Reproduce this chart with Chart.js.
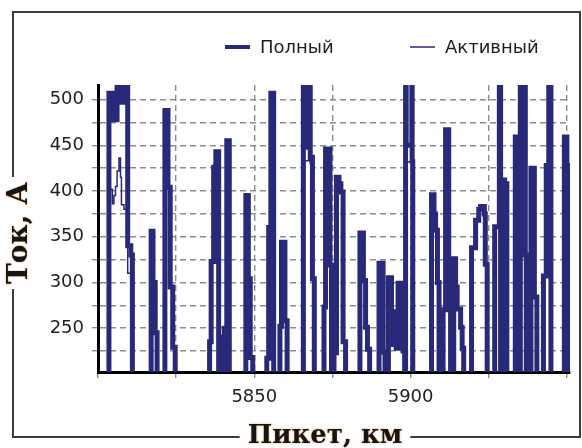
<!DOCTYPE html>
<html lang="ru">
<head>
<meta charset="utf-8">
<title>Ток по пикетам</title>
<script src="https://cdn.jsdelivr.net/npm/chart.js@4.4.1/dist/chart.umd.min.js"></script>
<style>
  html, body { margin: 0; padding: 0; background: #fff; }
  #wrap { width: 582px; height: 448px; }
</style>
</head>
<body>
<div id="wrap"><canvas id="tokChart"></canvas></div>
<script>
// пикет, км (общий для обеих кривых)
var piket = [
  5800.0,
  5803.5, 5804.6, 5805.1, 5805.6, 5806.1, 5806.7, 5807.2, 5807.5, 5808.3, 5809.5, 5810.5, 5811.0,
  5817.0, 5817.6, 5818.3, 5818.9,
  5821.4, 5822.4, 5823.1, 5823.9, 5824.7,
  5835.7, 5836.2, 5837.0, 5837.7, 5838.6, 5839.2, 5839.8, 5840.4, 5841.2, 5842.0,
  5847.3, 5848.1, 5848.7, 5849.5,
  5854.0, 5854.6, 5855.3, 5856.2,
  5858.2, 5858.7, 5859.8, 5860.5,
  5865.7, 5866.0, 5867.5, 5867.9, 5868.6, 5869.2,
  5872.3, 5872.8, 5874.2, 5874.7,
  5875.5, 5876.3, 5877.1, 5877.7, 5878.4, 5879.2,
  5883.8, 5884.9, 5885.6, 5886.2, 5886.9,
  5889.9, 5891.2, 5891.8,
  5892.9, 5893.9, 5894.4, 5894.9, 5895.4, 5896.0, 5897.1, 5897.6, 5898.1, 5898.4, 5898.6, 5900.4, 5900.5, 5900.7,
  5906.7, 5907.5, 5908.0, 5908.6, 5909.1,
  5910.4, 5911.2, 5912.2, 5912.8, 5913.8, 5914.4, 5914.9, 5916.0, 5916.5, 5917.0,
  5919.5, 5920.8, 5921.8, 5922.4, 5923.6, 5923.9, 5924.5,
  5926.9, 5928.4, 5928.8, 5929.5, 5930.1, 5930.8,
  5933.5, 5934.4, 5935.1, 5936.7, 5937.0, 5938.5, 5939.6, 5940.4,
  5942.5, 5943.4, 5944.2, 5944.9,
  5949.2, 5950.0, 5950.3, 5950.8
];

// полный ток, А
var polny = [
  0,
  507, 478, 478, 478, 540, 540, 540, 497, 540, 340, 330, 0,
  356, 300, 245, 0,
  488, 404, 295, 229, 0,
  235, 323, 426, 443, 0, 240, 0, 250, 455, 0,
  395, 304, 218, 0,
  217, 360, 507, 0,
  252, 344, 258, 0,
  540, 448, 540, 437, 304, 0,
  273, 446, 319, 0,
  223, 415, 408, 399, 235, 0,
  354, 302, 251, 227, 0,
  321, 224, 0,
  305, 268, 232, 262, 228, 299, 272, 225, 0, 540, 450, 540, 432, 0,
  396, 375, 357, 300, 0,
  270, 467, 270, 0, 326, 295, 271, 251, 228, 0,
  338, 368, 380, 383, 375, 320, 0,
  361, 540, 0, 412, 408, 0,
  459, 0, 540, 330, 0, 425, 284, 0,
  307, 428, 540, 0,
  459, 428, 355, 0
];

// активный ток, А
var aktivny = [
  0,
  402, 386, 395, 405, 422, 436, 415, 385, 380, 310, 310, 0,
  355, 299, 244, 0,
  486, 403, 294, 228, 0,
  234, 322, 424, 442, 0, 239, 0, 249, 453, 0,
  394, 303, 217, 0,
  216, 359, 505, 0,
  251, 343, 257, 0,
  436, 433, 530, 430, 302, 0,
  272, 444, 318, 0,
  222, 413, 407, 398, 234, 0,
  352, 301, 250, 226, 0,
  320, 223, 0,
  304, 267, 231, 261, 227, 298, 271, 224, 0, 530, 432, 530, 430, 0,
  395, 374, 356, 299, 0,
  269, 465, 269, 0, 325, 294, 270, 250, 227, 0,
  337, 367, 379, 382, 374, 319, 0,
  360, 530, 0, 411, 407, 0,
  457, 0, 530, 329, 0, 424, 283, 0,
  306, 427, 530, 0,
  457, 427, 354, 0
];

var nazvaniya = ['Полный', 'Активный'];
var metkiX = [5850, 5900];
var metkiY = [250, 300, 350, 400, 450, 500];
var podpisX = 'Пикет, км';
var podpisY = 'Ток, А';

var cvetLinii = '#29297a';

// рамка, подписи осей и легенда рисуются вручную
var oformlenie = {
  id: 'oformlenie',
  beforeDraw: function(chart) {
    var ctx = chart.ctx;
    ctx.save();
    ctx.fillStyle = '#fff';
    ctx.fillRect(0, 0, chart.width, chart.height);
    ctx.strokeStyle = '#3c3c3c';
    ctx.lineWidth = 2;
    ctx.strokeRect(13, 12, 567, 425);
    ctx.restore();
  },
  afterDraw: function(chart) {
    var ctx = chart.ctx;
    ctx.save();

    // легенда
    var legendX = [225, 410];
    ctx.font = '18px "DejaVu Sans"';
    ctx.textBaseline = 'middle';
    ctx.textAlign = 'left';
    chart.data.datasets.forEach(function(ds, i) {
      ctx.strokeStyle = ds.borderColor;
      ctx.lineWidth = i === 0 ? 4 : 1.5;
      ctx.beginPath();
      ctx.moveTo(legendX[i], 47);
      ctx.lineTo(legendX[i] + 25, 47);
      ctx.stroke();
      ctx.fillStyle = '#1e1e1e';
      ctx.fillText(ds.label, legendX[i] + 35, 48);
    });

    // подпись оси X с разрывом рамки
    ctx.font = 'bold 26px "DejaVu Serif"';
    ctx.textAlign = 'center';
    var wx = ctx.measureText(podpisX).width;
    ctx.fillStyle = '#fff';
    ctx.fillRect(325 - wx / 2 - 8, 424, wx + 16, 24);
    ctx.shadowColor = 'rgba(222, 140, 50, 0.85)';
    ctx.shadowBlur = 2;
    ctx.fillStyle = '#151515';
    ctx.fillText(podpisX, 325, 436);

    // подпись оси Y
    ctx.shadowColor = 'transparent';
    ctx.shadowBlur = 0;
    ctx.font = 'bold 28px "DejaVu Serif"';
    var wy = ctx.measureText(podpisY).width;
    ctx.translate(20, 233);
    ctx.rotate(-Math.PI / 2);
    ctx.fillStyle = '#fff';
    ctx.fillRect(-wy / 2 - 5, -15, wy + 10, 30);
    ctx.shadowColor = 'rgba(222, 140, 50, 0.85)';
    ctx.shadowBlur = 2;
    ctx.fillStyle = '#151515';
    ctx.fillText(podpisY, 0, 0);

    ctx.restore();
  }
};

function toPoints(values) {
  return piket.map(function(km, i) {
    return { x: km, y: values[i] };
  });
}

var ctx = document.getElementById('tokChart').getContext('2d');
var tokChart = new Chart(ctx, {
  type: 'line',
  data: {
    datasets: [
      {
        label: nazvaniya[0],
        data: toPoints(polny),
        borderColor: cvetLinii,
        borderWidth: 5,
        stepped: true,
        pointRadius: 0,
        fill: false,
        clip: 0
      },
      {
        label: nazvaniya[1],
        data: toPoints(aktivny),
        borderColor: cvetLinii,
        borderWidth: 1.5,
        stepped: true,
        pointRadius: 0,
        fill: false,
        clip: 0
      }
    ]
  },
  options: {
    responsive: true,
    maintainAspectRatio: false,
    animation: false,
    events: [],
    layout: {
      padding: { top: 85, right: 12, bottom: 0, left: 0 }
    },
    plugins: {
      legend: { display: false },
      tooltip: { enabled: false }
    },
    scales: {
      x: {
        type: 'linear',
        min: 5800,
        max: 5951,
        afterFit: function(scale) { scale.height = 76; },
        ticks: {
          stepSize: 25,
          autoSkip: false,
          maxRotation: 0,
          includeBounds: false,
          padding: 9,
          color: '#222',
          font: { family: 'DejaVu Sans', size: 18 },
          callback: function(value) {
            return metkiX.indexOf(value) >= 0 ? String(value) : '';
          }
        },
        grid: { color: '#8c8c8c', lineWidth: 1.4, tickLength: 6 },
        border: { color: '#000', width: 3, dash: [6, 4] }
      },
      y: {
        min: 202,
        max: 516,
        afterFit: function(scale) { scale.width = 98; },
        ticks: {
          stepSize: 25,
          includeBounds: false,
          padding: 8,
          color: '#222',
          font: { family: 'DejaVu Sans', size: 18 },
          callback: function(value) {
            return metkiY.indexOf(value) >= 0 ? String(value) : '';
          }
        },
        grid: { color: '#8c8c8c', lineWidth: 1.4, tickLength: 6 },
        border: { color: '#000', width: 3, dash: [6, 4] }
      }
    }
  },
  plugins: [oformlenie]
});
</script>
</body>
</html>
